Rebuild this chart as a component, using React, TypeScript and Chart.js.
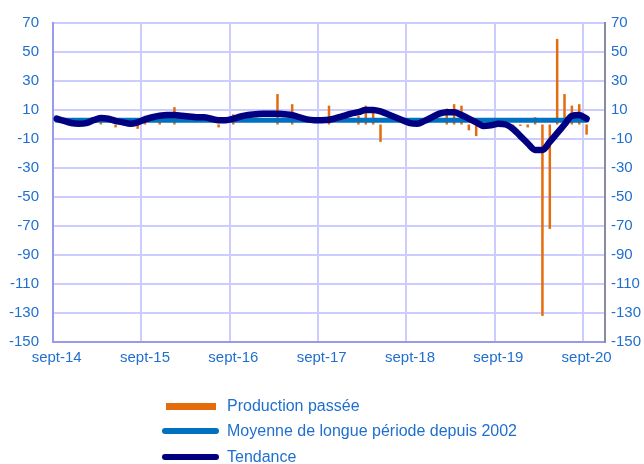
import React, { useEffect, useRef } from 'react';
import { Chart, registerables } from 'chart.js';
Chart.register(...registerables);

// Monthly data, sept-14 (index 0) .. sept-20 (index 72); null = no visible bar
const xTickLabels = ['sept-14', 'sept-15', 'sept-16', 'sept-17', 'sept-18', 'sept-19', 'sept-20'];

const productionPassee: (number | null)[] = [
  null, null, -1, null, null, null, 6, null, -2, null, null, -3,
  6, null, 8, null, 12, null, null, null, null, null, -2, null,
  7, null, null, null, null, null, 21, null, 14, null, null, null,
  null, 13, null, null, null, 6, 13, 8, -12, null, null, null,
  null, null, null, null, null, 11, 14, 13, -4, -8, null, null,
  null, null, -2, -1, -2, 5, -132, -72, 59, 21, 13, 14,
  -7,
];

const moyenneLonguePeriode = 3;

const tendance = [
  4, 2.5, 1, 0.5, 1, 3, 4.5, 4, 2.5, 1.5, 0.5, 1.5,
  3.5, 5, 6, 6.5, 6.5, 6, 5.5, 5, 5, 4, 3, 3,
  4, 5.5, 6.5, 7, 7.5, 7.5, 7.5, 7, 6.5, 5, 3.5, 3,
  3, 3.3, 4.5, 6, 7.5, 8.5, 10, 10, 9, 7, 5, 3,
  1, 0.5, 2.5, 5, 7.5, 8.5, 8.5, 6.5, 4, 1.5, -1, -0.5,
  0.5, 0, -3, -8, -13, -17.5, -17.5, -12, -6, 0, 6, 6.5,
  4,
];

const yMin = -150;
const yMax = 70;
const yStep = 20;

const textColor = '#1F6FCF';
const fontFamily = '"Liberation Sans", Arial, sans-serif';

const legendPlugin = {
  id: 'customLegend',
  afterDraw(chart: any) {
    const { ctx } = chart;
    const ds = chart.data.datasets;
    const bar = ds.find((d: any) => d.type === 'bar');
    const moy = ds.find((d: any) => d.label.startsWith('Moyenne'));
    const tend = ds.find((d: any) => d.label === 'Tendance');
    ctx.save();
    ctx.font = '16px ' + fontFamily;
    ctx.textBaseline = 'middle';
    ctx.textAlign = 'left';
    ctx.fillStyle = bar.backgroundColor;
    ctx.fillRect(166, 403, 50, 7);
    ctx.fillStyle = textColor;
    ctx.fillText(bar.label, 227, 407);
    const lines = [
      { d: moy, y: 431 },
      { d: tend, y: 457 },
    ];
    for (const l of lines) {
      ctx.strokeStyle = l.d.borderColor;
      ctx.lineWidth = 6;
      ctx.lineCap = 'round';
      ctx.beginPath();
      ctx.moveTo(165, l.y);
      ctx.lineTo(216, l.y);
      ctx.stroke();
      ctx.fillStyle = textColor;
      ctx.fillText(l.d.label, 227, l.y + 1);
    }
    ctx.restore();
  },
};

export default function App() {
  const ref = useRef<HTMLCanvasElement>(null);
  useEffect(() => {
    if (!ref.current) return;
    const xs = productionPassee.map((_, i) => i + 0.5);
    const chart = new Chart(ref.current, {
      type: 'bar',
      data: {
        datasets: [
          {
            type: 'line',
            label: 'Tendance',
            data: tendance.map((y, i) => ({ x: xs[i], y })),
            borderColor: '#000080',
            borderWidth: 6.5,
            pointRadius: 0,
            cubicInterpolationMode: 'monotone',
            borderCapStyle: 'round',
            borderJoinStyle: 'round',
            order: 1,
          } as any,
          {
            type: 'line',
            label: 'Moyenne de longue période depuis 2002',
            data: xs.map((x) => ({ x, y: moyenneLonguePeriode })),
            borderColor: '#0070C0',
            borderWidth: 5,
            pointRadius: 0,
            borderCapStyle: 'round',
            order: 2,
          } as any,
          {
            type: 'bar',
            label: 'Production passée',
            data: productionPassee.map((y, i) => ({ x: xs[i], y })),
            backgroundColor: '#E46C0A',
            barThickness: 2.5,
            inflateAmount: 0,
            order: 3,
          } as any,
        ],
      },
      options: {
        animation: false,
        responsive: false,
        devicePixelRatio: 1,
        layout: { padding: { top: 20, bottom: 92, left: 0, right: 0 } },
        plugins: { legend: { display: false }, tooltip: { enabled: false } },
        scales: {
          x: {
            type: 'linear',
            offset: false,
            min: 0,
            max: 75,
            afterBuildTicks: (s: any) => {
              s.ticks = xTickLabels.map((_, k) => ({ value: k * 12 }));
            },
            afterFit: (s: any) => {
              s.height = 30;
            },
            ticks: {
              callback: (_v: any, idx: number) => xTickLabels[idx],
              color: textColor,
              font: { family: fontFamily, size: 15 },
              labelOffset: 3.7,
              padding: 7,
              maxRotation: 0,
              autoSkip: false,
            },
            grid: { color: '#CCCCFF', lineWidth: 2, drawTicks: false, offset: false },
            border: { color: '#9999EE', width: 2 },
          },
          y: {
            position: 'left',
            min: yMin,
            max: yMax,
            afterFit: (s: any) => {
              s.width = 53;
            },
            ticks: {
              stepSize: yStep,
              color: textColor,
              font: { family: fontFamily, size: 15 },
              padding: 14,
            },
            grid: { color: '#CCCCFF', lineWidth: 2, drawTicks: false },
            border: { color: '#9999EE', width: 2 },
          },
          y2: {
            position: 'right',
            min: yMin,
            max: yMax,
            afterFit: (s: any) => {
              s.width = 39;
            },
            ticks: {
              stepSize: yStep,
              color: textColor,
              font: { family: fontFamily, size: 15 },
              padding: 6,
            },
            grid: { drawOnChartArea: false, drawTicks: false },
            border: { color: '#8A8AA6', width: 2 },
          },
        },
      } as any,
      plugins: [legendPlugin],
    });
    return () => chart.destroy();
  }, []);
  return (
    <div style={{ position: 'absolute', left: 0, top: 0, width: 644, height: 464, background: '#fff' }}>
      <canvas ref={ref} width={644} height={464} style={{ display: 'block' }} />
    </div>
  );
}
